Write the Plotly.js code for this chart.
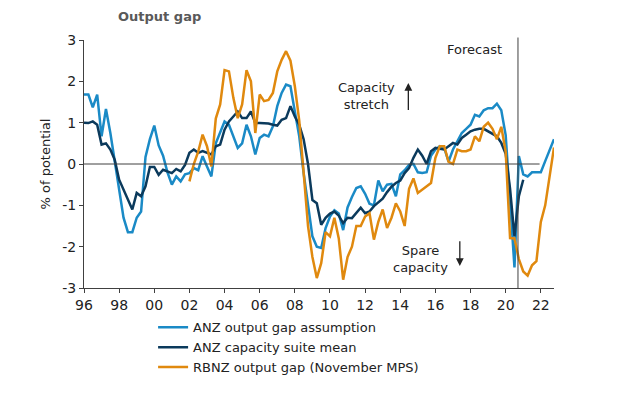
<!DOCTYPE html>
<html>
<head>
<meta charset="utf-8">
<script src="https://cdn.plot.ly/plotly-3.0.1.min.js"></script>
<style>
  html, body { margin: 0; padding: 0; background: #ffffff; }
  #chart { width: 620px; height: 397px; }
</style>
</head>
<body>
<div id="chart"></div>
<script>
// Quarterly data, % of potential
const anzStart = 1996;   // first quarter of ANZ series (1996Q1)
const rbnzStart = 2002;  // first quarter of RBNZ series (2002Q1)

const anzOutputGap = [
  1.68, 1.68, 1.37, 1.68,    // 1996
  0.67, 1.33, 0.75, 0.05,    // 1997
  -0.6, -1.3, -1.65, -1.65,  // 1998
  -1.3, -1.15, 0.17, 0.6,    // 1999
  0.93, 0.45, 0.2, -0.2,     // 2000
  -0.5, -0.3, -0.42, -0.25,  // 2001
  -0.22, -0.1, -0.15, 0.19,  // 2002
  -0.06, -0.3, 0.5, 0.75,    // 2003
  1.03, 0.95, 0.65, 0.39,    // 2004
  0.5, 0.95, 0.67, 0.23,     // 2005
  0.63, 0.71, 0.67, 0.91,    // 2006
  1.4, 1.72, 1.92, 1.88,     // 2007
  1.27, 0.67, -0.22, -1.02,  // 2008
  -1.75, -2.0, -2.03, -1.55, // 2009
  -1.27, -1.12, -1.2, -1.6,  // 2010
  -1.05, -0.8, -0.58, -0.54, // 2011
  -0.72, -0.96, -1.0, -0.4,  // 2012
  -0.66, -0.5, -0.48, -0.78, // 2013
  -0.25, -0.15, -0.02, 0.0,  // 2014
  -0.2, -0.22, -0.2, 0.2,    // 2015
  0.35, 0.43, 0.39, 0.06,    // 2016
  0.35, 0.55, 0.75, 0.85,    // 2017
  0.95, 1.19, 1.15, 1.3,     // 2018
  1.35, 1.35, 1.46, 1.3,     // 2019
  0.7, -0.9, -2.5, 0.19,     // 2020
  -0.25, -0.3, -0.2, -0.2,   // 2021
  -0.2, 0.07, 0.33, 0.6      // 2022
];

const anzCapacityMean = [
  1.0, 0.99, 1.03, 0.95,     // 1996
  0.47, 0.5, 0.35, 0.1,      // 1997
  -0.38, -0.62, -0.82, -1.1, // 1998
  -0.7, -0.78, -0.54, -0.07, // 1999
  -0.07, -0.26, -0.14, -0.18,// 2000
  -0.22, -0.12, -0.18, -0.02,// 2001
  0.27, 0.35, 0.27, 0.31,    // 2002
  0.27, 0.23, 0.43, 0.47,    // 2003
  0.83, 1.03, 1.15, 1.27,    // 2004
  1.11, 1.11, 1.27, 0.99,    // 2005
  0.99, 0.99, 0.98, 0.95,    // 2006
  0.93, 1.07, 1.11, 1.4,     // 2007
  1.15, 0.95, 0.6, 0.0,      // 2008
  -0.87, -0.95, -1.47, -1.3, // 2009
  -1.2, -1.15, -1.25, -1.43, // 2010
  -1.3, -1.31, -1.19, -1.06, // 2011
  -1.19, -1.15, -1.02, -0.92,// 2012
  -0.84, -0.68, -0.55, -0.46,// 2013
  -0.4, -0.22, -0.1, 0.15,   // 2014
  0.35, 0.2, 0.0, 0.31,      // 2015
  0.39, 0.37, 0.35, 0.43,    // 2016
  0.51, 0.47, 0.63, 0.71,    // 2017
  0.79, 0.83, 0.85, 0.85,    // 2018
  0.79, 0.71, 0.67, 0.51,    // 2019
  0.25, -0.6, -1.75, -0.78,  // 2020
  -0.38                      // 2021
];

const rbnzOutputGap = [
  -0.42, 0.0, 0.3, 0.71,     // 2002
  0.43, -0.06, 1.1, 1.44,    // 2003
  2.27, 2.24, 1.6, 1.11,     // 2004
  1.44, 2.27, 2.0, 0.75,     // 2005
  1.68, 1.52, 1.55, 1.72,    // 2006
  2.24, 2.52, 2.73, 2.5,     // 2007
  1.88, 1.05, -0.2, -1.5,    // 2008
  -2.25, -2.76, -2.4, -1.65, // 2009
  -1.75, -1.3, -1.8, -2.8,   // 2010
  -2.25, -2.0, -1.5, -1.5,   // 2011
  -1.27, -1.19, -1.83, -1.4, // 2012
  -1.1, -1.55, -1.3, -0.95,  // 2013
  -1.15, -1.5, -0.6, -0.35,  // 2014
  -0.7, -0.62, -0.55, -0.46, // 2015
  0.15, 0.43, 0.43, 0.05,    // 2016
  0.0, 0.35, 0.31, 0.31,     // 2017
  0.35, 0.67, 0.55, 0.9,     // 2018
  1.0, 0.85, 0.6, 0.9,       // 2019
  0.3, -1.79, -1.8, -2.3,    // 2020
  -2.6, -2.7, -2.45, -2.35,  // 2021
  -1.4, -1.0, -0.3, 0.4      // 2022
];

const seriesNames = [
  "ANZ output gap assumption",
  "ANZ capacity suite mean",
  "RBNZ output gap (November MPS)"
];
const seriesColors = ["#1a8ac6", "#0b3a5c", "#e0890e"];

const tickYears = [1996, 1998, 2000, 2002, 2004, 2006, 2008, 2010, 2012, 2014, 2016, 2018, 2020, 2022];
const tickYearLabels = ["96", "98", "00", "02", "04", "06", "08", "10", "12", "14", "16", "18", "20", "22"];
const yTickVals = [-3, -2, -1, 0, 1, 2, 3];
const yTickLabels = ["-3", "-2", "-1", "0", "1", "2", "3"];
const forecastStart = 2020.7;

const quarterAxis = (start, values) => values.map((_, i) => start + i / 4);

const FONT = "DejaVu Sans, Verdana, sans-serif";
const AX = "#404040";

const traces = [
  { x: quarterAxis(anzStart, anzOutputGap), y: anzOutputGap, name: seriesNames[0],
    type: "scatter", mode: "lines", line: { color: seriesColors[0], width: 2.5 } },
  { x: quarterAxis(anzStart, anzCapacityMean), y: anzCapacityMean, name: seriesNames[1],
    type: "scatter", mode: "lines", line: { color: seriesColors[1], width: 2.5 } },
  { x: quarterAxis(rbnzStart, rbnzOutputGap), y: rbnzOutputGap, name: seriesNames[2],
    type: "scatter", mode: "lines", line: { color: seriesColors[2], width: 2.5 } }
];

const layout = {
  width: 620, height: 397,
  margin: { l: 84, r: 66, t: 40, b: 109 },
  paper_bgcolor: "#ffffff", plot_bgcolor: "#ffffff",
  font: { family: FONT, size: 13, color: "#222222" },
  title: { text: "<b>Output gap</b>", x: 118 / 620, xanchor: "left", y: 0.958, yanchor: "middle",
           font: { family: FONT, size: 13, color: "#595959" } },
  showlegend: true,
  legend: { x: 0.147, xanchor: "left", y: -0.098, yanchor: "top", orientation: "v",
            font: { family: FONT, size: 13, color: "#222222" }, itemwidth: 30,
            tracegroupgap: 0, bgcolor: "rgba(0,0,0,0)" },
  xaxis: {
    range: [1996, 2022.75], showgrid: false, zeroline: false,
    showline: true, linecolor: AX, linewidth: 1,
    ticks: "outside", ticklen: 4, tickcolor: AX, tickwidth: 1,
    tickvals: tickYears, ticktext: tickYearLabels,
    tickfont: { family: FONT, size: 14, color: "#222222" }
  },
  yaxis: {
    range: [-3, 3], showgrid: false, zeroline: false,
    showline: true, linecolor: AX, linewidth: 1,
    ticks: "outside", ticklen: 4, tickcolor: AX, tickwidth: 1,
    tickvals: yTickVals, ticktext: yTickLabels,
    tickfont: { family: FONT, size: 14, color: "#222222" },
    title: { text: "% of potential", standoff: 8, font: { family: FONT, size: 13, color: "#222222" } }
  },
  shapes: [
    { type: "line", xref: "x", yref: "y", x0: 1996, x1: 2021.93, y0: 0, y1: 0,
      line: { color: AX, width: 1 } },
    { type: "line", xref: "x", yref: "paper", x0: forecastStart, x1: forecastStart, y0: 0, y1: 1.01,
      line: { color: AX, width: 1 } }
  ],
  annotations: [
    { text: "Forecast", xref: "x", yref: "y", x: 2018.2, y: 2.78, showarrow: false,
      font: { family: FONT, size: 13, color: "#222222" } },
    { text: "Capacity<br>stretch", xref: "x", yref: "y", x: 2012.07, y: 1.64, showarrow: false,
      font: { family: FONT, size: 13, color: "#222222" } },
    { text: "", xref: "x", yref: "y", axref: "x", ayref: "y",
      x: 2014.46, y: 1.96, ax: 2014.46, ay: 1.27, showarrow: true,
      arrowhead: 2, arrowsize: 1.2, arrowwidth: 1.3, arrowcolor: "#222222" },
    { text: "Spare<br>capacity", xref: "x", yref: "y", x: 2015.18, y: -2.31, showarrow: false,
      font: { family: FONT, size: 13, color: "#222222" } },
    { text: "", xref: "x", yref: "y", axref: "x", ayref: "y",
      x: 2017.39, y: -2.47, ax: 2017.39, ay: -1.83, showarrow: true,
      arrowhead: 2, arrowsize: 1.2, arrowwidth: 1.3, arrowcolor: "#222222" }
  ]
};

Plotly.newPlot("chart", traces, layout, { displayModeBar: false, staticPlot: true });
</script>
</body>
</html>
